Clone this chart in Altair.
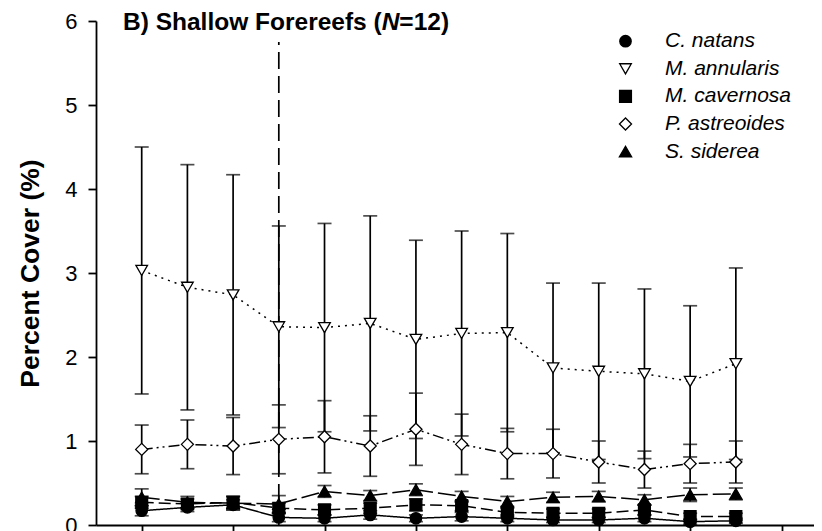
import altair as alt
import pandas as pd

species = ["C. natans", "M. annularis", "M. cavernosa", "P. astreoides", "S. siderea"]
survey = list(range(14))

c_natans_mean = [0.17, 0.21, 0.24, 0.09, 0.08, 0.12, 0.08, 0.10, 0.08, 0.06, 0.06, 0.08, 0.04, 0.05]
c_natans_se = [0.06, 0.05, 0.06, 0.05, 0.04, 0.05, 0.04, 0.05, 0.04, 0.03, 0.03, 0.04, 0.03, 0.03]

m_annularis_mean = [3.03, 2.83, 2.74, 2.36, 2.35, 2.40, 2.21, 2.28, 2.29, 1.87, 1.83, 1.80, 1.71, 1.92]
m_annularis_se = [1.47, 1.46, 1.43, 1.20, 1.24, 1.28, 1.18, 1.22, 1.18, 1.01, 1.05, 1.01, 0.90, 1.14]

m_cavernosa_mean = [0.27, 0.25, 0.27, 0.20, 0.18, 0.20, 0.24, 0.23, 0.15, 0.14, 0.14, 0.18, 0.10, 0.10]
m_cavernosa_se = [0.07, 0.06, 0.07, 0.06, 0.06, 0.06, 0.07, 0.06, 0.05, 0.05, 0.05, 0.06, 0.04, 0.04]

p_astreoides_mean = [0.90, 0.96, 0.94, 1.02, 1.05, 0.94, 1.14, 0.96, 0.85, 0.85, 0.75, 0.66, 0.73, 0.75]
p_astreoides_se = [0.29, 0.29, 0.34, 0.41, 0.43, 0.36, 0.43, 0.36, 0.30, 0.29, 0.25, 0.22, 0.23, 0.25]

s_siderea_mean = [0.33, 0.27, 0.26, 0.25, 0.40, 0.35, 0.42, 0.34, 0.28, 0.33, 0.34, 0.30, 0.36, 0.37]
s_siderea_se = [0.10, 0.07, 0.08, 0.10, 0.07, 0.06, 0.07, 0.06, 0.06, 0.06, 0.06, 0.06, 0.08, 0.07]

means = [c_natans_mean, m_annularis_mean, m_cavernosa_mean, p_astreoides_mean, s_siderea_mean]
ses = [c_natans_se, m_annularis_se, m_cavernosa_se, p_astreoides_se, s_siderea_se]

shapes = ["circle", "triangle-down", "square", "diamond", "triangle-up"]
fills = ["black", "white", "black", "white", "black"]
strokes = ["black", "black", "black", "black", "black"]
sizes = [130, 150, 120, 230, 170]
dashes = [[1, 0], [2, 5], [12, 5], [11, 4, 2, 4, 2, 4], [18, 5]]

x_ticks = [0, 2, 4, 6, 8, 10, 12, 14]
y_ticks = [0, 1, 2, 3, 4, 5, 6]

vline_x = [3]
vline_top = [5.75]

rows = []
for sp, m, s in zip(species, means, ses):
    for i, mv, sv in zip(survey, m, s):
        rows.append({"species": sp, "idx": i, "mean": mv,
                     "lo": max(mv - sv, 0), "hi": mv + sv})
df = pd.DataFrame(rows)

FONT = "Liberation Sans"

xscale = alt.Scale(domain=[-1, 14.71], nice=False, zero=False)
yscale = alt.Scale(domain=[0, 6], nice=False, zero=False)

xaxis = alt.Axis(values=x_ticks, labels=False, title=None, tickSize=6,
                 domainWidth=1.8, tickWidth=1.8, domainColor="black",
                 tickColor="black", grid=False)
yaxis = alt.Axis(values=y_ticks, title="Percent Cover (%)", tickSize=8,
                 labelPadding=11, labelFont=FONT, labelFontSize=22,
                 labelColor="black", domainWidth=1.8, tickWidth=1.8,
                 domainColor="black", tickColor="black", grid=False,
                 titleFont=FONT, titleFontSize=26.5, titleFontWeight="bold",
                 titleColor="black", titleAngle=270, titleX=-58, titleY=252,
                 titleAlign="center", titleBaseline="alphabetic")

X = alt.X("idx:Q", scale=xscale, axis=xaxis)
Ymean = alt.Y("mean:Q", scale=yscale, axis=yaxis)

line_layers = []
for sp, d in zip(species, dashes):
    line_layers.append(
        alt.Chart(df).transform_filter(alt.datum.species == sp)
        .mark_line(color="black", strokeWidth=1.5, strokeDash=d)
        .encode(x=X, y=Ymean)
    )

vdf = pd.DataFrame({"x": vline_x, "y0": [0], "y1": vline_top})
vline = alt.Chart(vdf).mark_rule(color="black", strokeWidth=1.7,
                                 strokeDash=[17, 7]).encode(
    x=alt.X("x:Q", scale=xscale, axis=xaxis),
    y=alt.Y("y0:Q", scale=yscale, axis=yaxis),
    y2="y1:Q",
)

err = alt.Chart(df).mark_rule(color="black", strokeWidth=1.7).encode(
    x=X, y=alt.Y("lo:Q", scale=yscale, axis=yaxis), y2="hi:Q")

cap_hi = alt.Chart(df).mark_tick(color="black", orient="horizontal",
                                 size=14, thickness=1.7).encode(
    x=X, y=alt.Y("hi:Q", scale=yscale, axis=yaxis))
cap_lo = alt.Chart(df).mark_tick(color="black", orient="horizontal",
                                 size=14, thickness=1.7).encode(
    x=X, y=alt.Y("lo:Q", scale=yscale, axis=yaxis))

leg = alt.Legend(orient="none", legendX=519, legendY=9.7, title=None,
                 labelFont=FONT, labelFontStyle="italic", labelFontSize=21,
                 labelColor="black", labelOffset=29, rowPadding=5.6,
                 padding=0, labelLimit=400, symbolStrokeWidth=1.3)

points = alt.Chart(df).mark_point(filled=True, opacity=1,
                                  strokeWidth=1.3).encode(
    x=X,
    y=Ymean,
    shape=alt.Shape("species:N", scale=alt.Scale(domain=species, range=shapes), legend=leg),
    fill=alt.Fill("species:N", scale=alt.Scale(domain=species, range=fills), legend=leg),
    stroke=alt.Stroke("species:N", scale=alt.Scale(domain=species, range=strokes), legend=leg),
    size=alt.Size("species:N", scale=alt.Scale(domain=species, range=sizes), legend=leg),
)

TS = 24.5
t1 = alt.Chart(pd.DataFrame({"t": ["B) Shallow Forereefs ("]})).mark_text(
    align="left", baseline="alphabetic", font=FONT, fontSize=TS,
    fontWeight="bold", color="black").encode(
    x=alt.value(27), y=alt.value(8.5), text="t:N")
t2 = alt.Chart(pd.DataFrame({"t": ["N"]})).mark_text(
    align="left", baseline="alphabetic", font=FONT, fontSize=TS,
    fontWeight="bold", fontStyle="italic", color="black").encode(
    x=alt.value(27 + 10.558 * TS), y=alt.value(8.5), text="t:N")
t3 = alt.Chart(pd.DataFrame({"t": ["=12)"]})).mark_text(
    align="left", baseline="alphabetic", font=FONT, fontSize=TS,
    fontWeight="bold", color="black").encode(
    x=alt.value(27 + 11.28 * TS), y=alt.value(8.5), text="t:N")

chart = alt.layer(*line_layers, vline, err, cap_hi, cap_lo, points, t1, t2, t3).properties(
    width=718, height=504,
    autosize=alt.AutoSizeParams(type="none"),
    padding={"left": 88, "top": 13, "right": 0, "bottom": 6},
).configure_view(stroke=None).configure_axis(grid=False)

chart.save("out.html", embed_options={"renderer": "svg", "actions": False})
